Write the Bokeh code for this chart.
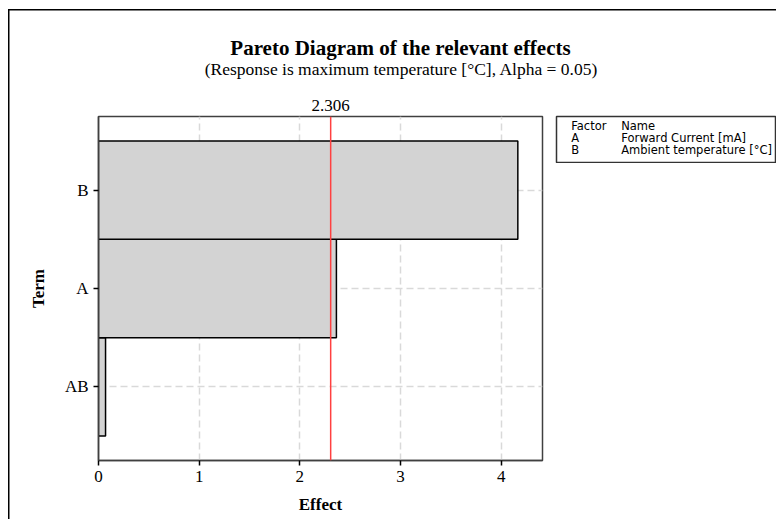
from bokeh.plotting import figure
from bokeh.models import FactorRange, Range1d, Span, FixedTicker, LinearAxis
from bokeh.layouts import row, column
from bokeh.core.properties import value
from bokeh.embed import file_html
from bokeh.resources import INLINE

# ---- data ----
terms = ["AB", "A", "B"]
effects = [0.07, 2.363, 4.165]
critical = 2.306
x_ticks = [0, 1, 2, 3, 4]
legend_header = ["Factor", "Name"]
legend_factors = ["A", "B"]
legend_names = ["Forward Current [mA]", "Ambient temperature [°C]"]
title_text = "Pareto Diagram of the relevant effects"
subtitle_text = "(Response is maximum temperature [°C], Alpha = 0.05)"

SERIF = "Liberation Serif"
SANS = "DejaVu Sans"
TOP_H = 86

# ---- title strip ----
tfig = figure(
    width=776, height=TOP_H, x_range=Range1d(0, 776), y_range=Range1d(TOP_H, 0),
    min_border=0, x_axis_location=None, y_axis_location=None,
    output_backend="svg", toolbar_location=None,
)
tfig.xgrid.visible = False
tfig.ygrid.visible = False
tfig.outline_line_color = None
tfig.background_fill_color = None
tfig.border_fill_color = None
tfig.text(x=[400], y=[47], text=[title_text], text_font=value(SERIF),
          text_font_size="21px", text_font_style="bold", text_align="center",
          text_baseline="alphabetic", text_color="black")
tfig.text(x=[401], y=[68], text=[subtitle_text], text_font=value(SERIF),
          text_font_size="17.5px", text_align="center",
          text_baseline="alphabetic", text_color="black")

# ---- main Pareto chart ----
p = figure(
    y_range=FactorRange(factors=terms, range_padding=0.25, range_padding_units="absolute"),
    x_range=Range1d(0, 4.41),
    frame_width=444, frame_height=344,
    min_border_left=98, min_border_right=13, min_border_top=116 - TOP_H, min_border_bottom=59,
    output_backend="svg", toolbar_location=None,
)
p.background_fill_color = "white"
p.border_fill_color = None
p.outline_line_color = "#404040"
p.outline_line_width = 1.5

p.hbar(y=terms, left=0, right=effects, height=1.0,
       fill_color="#d3d3d3", line_color="black", line_width=1.5)

p.add_layout(Span(location=critical, dimension="height",
                  line_color="#ff4040", line_width=1.5))

for g in (p.xgrid, p.ygrid):
    g.grid_line_color = "#d9d9d9"
    g.grid_line_dash = "7 4"
    g.grid_line_width = 1.5

p.xaxis.ticker = FixedTicker(ticks=x_ticks)
for ax in (p.xaxis, p.yaxis):
    ax.axis_line_color = "#404040"
    ax.axis_line_width = 1.5
    ax.major_tick_line_color = "black"
    ax.major_tick_line_width = 1.5
    ax.major_tick_in = 0
    ax.major_tick_out = 5
    ax.minor_tick_line_color = None
    ax.major_label_text_font = SERIF
    ax.major_label_text_font_size = "17px"
    ax.major_label_text_color = "black"
    ax.axis_label_text_font = SERIF
    ax.axis_label_text_font_size = "17px"
    ax.axis_label_text_font_style = "bold"
    ax.axis_label_text_color = "black"
    ax.major_label_standoff = 5
p.xaxis.axis_label = "Effect"
p.yaxis.axis_label = "Term"
p.xaxis.axis_label_standoff = 10
p.yaxis.axis_label_standoff = 14

# critical value label as an axis above the frame
crit_axis = LinearAxis(ticker=FixedTicker(ticks=[critical]))
crit_axis.axis_line_color = None
crit_axis.major_tick_line_color = None
crit_axis.minor_tick_line_color = None
crit_axis.major_tick_out = 0
crit_axis.major_tick_in = 0
crit_axis.major_label_standoff = 6
crit_axis.major_label_text_font = SERIF
crit_axis.major_label_text_font_size = "17px"
crit_axis.major_label_text_color = "black"
p.add_layout(crit_axis, "above")

# ---- factor legend box ----
col1 = [legend_header[0]] + legend_factors
col2 = [legend_header[1]] + legend_names
row_idx = list(range(len(col1)))

leg = figure(
    x_range=Range1d(0, 220), y_range=Range1d((46 - 9.3) / 12.2, -9.3 / 12.2),
    frame_width=220, frame_height=46,
    min_border_left=1, min_border_right=0, min_border_top=116 - TOP_H, min_border_bottom=1,
    x_axis_location=None, y_axis_location=None,
    output_backend="svg", toolbar_location=None,
)
leg.xgrid.visible = False
leg.ygrid.visible = False
leg.background_fill_color = "white"
leg.border_fill_color = None
leg.outline_line_color = "#333333"
leg.outline_line_width = 1.5
leg.text(x=[14.7] * len(col1), y=row_idx, text=col1, text_font=value(SANS),
         text_font_size="11.5px", text_baseline="alphabetic", text_color="black")
leg.text(x=[64.7] * len(col2), y=row_idx, text=col2, text_font=value(SANS),
         text_font_size="11.5px", text_baseline="alphabetic", text_color="black")

layout = column(tfig, row(p, leg))
layout.styles = {
    "background": ("linear-gradient(#000,#000) 8px 9px / 1.5px calc(100% - 9px) no-repeat, "
                   "linear-gradient(#000,#000) 8px 9px / calc(100% - 8px) 1.5px no-repeat, #fff"),
}

open("out.html", "w").write(file_html(layout, INLINE))
